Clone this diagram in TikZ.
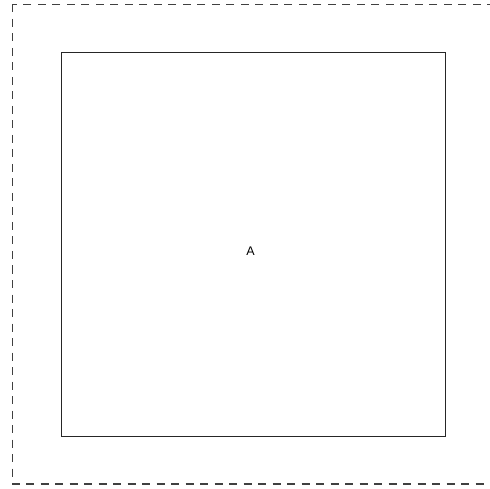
\documentclass[tikz,border=0pt]{standalone}
\usepackage{fontspec}
\setmainfont{Liberation Sans}
\begin{document}
\begin{tikzpicture}[x=1pt,y=-1pt,
  outerbox/.style={draw=black!75,line width=1.1pt,dash pattern=on 8pt off 6.5pt},
  innerbox/.style={draw=black!85,line width=1pt},
  lbl/.style={font=\fontsize{12.5}{14}\selectfont,inner sep=0pt}]
\useasboundingbox (0,0) rectangle (490,489);
\draw[outerbox] (12.5,4.5) rectangle (492,484);
\node[innerbox,minimum width=384pt,minimum height=384pt,inner sep=0pt,anchor=north west] (boxA) at (60.5,52) {};
\node[lbl] (a) at (250.5,251.5) {A};
\end{tikzpicture}
\end{document}
